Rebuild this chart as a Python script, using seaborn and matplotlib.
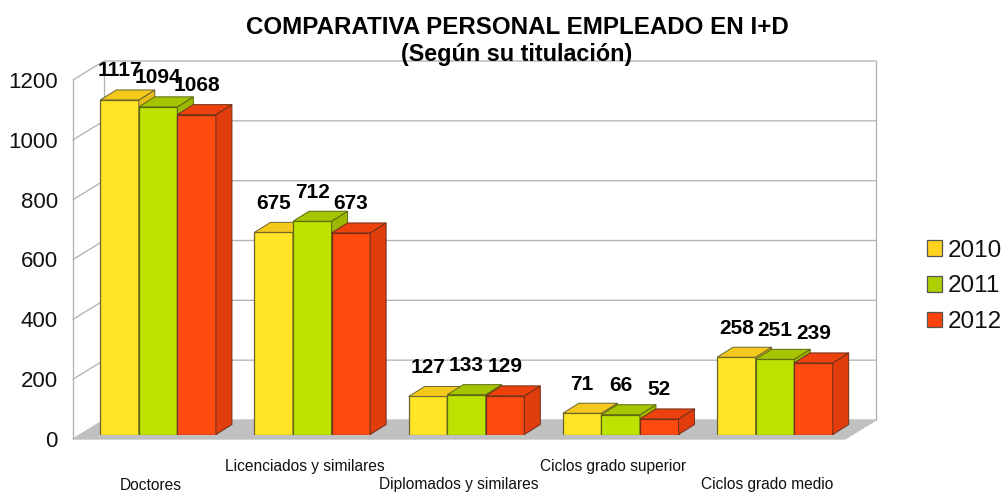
import pandas as pd
import seaborn as sns
import matplotlib.pyplot as plt
from matplotlib.patches import Patch, Polygon
from matplotlib.transforms import Affine2D

categories = ['Doctores', 'Licenciados y similares', 'Diplomados y similares',
              'Ciclos grado superior', 'Ciclos grado medio']
years = ['2010', '2011', '2012']
values_2010 = [1117, 675, 127, 71, 258]
values_2011 = [1094, 712, 133, 66, 251]
values_2012 = [1068, 673, 129, 52, 239]
yticks = [0, 200, 400, 600, 800, 1000, 1200]

FRONT = {'2010': '#ffe524', '2011': '#bee300', '2012': '#ff4a10'}
TOP = {'2010': '#f4c91c', '2011': '#a6c400', '2012': '#ee420e'}
SIDE = {'2010': '#e6bc1a', '2011': '#9cb800', '2012': '#e03c0c'}
LEGEND = {'2010': '#ffd320', '2011': '#aecf00', '2012': '#ff420e'}
EDGE = {'2010': '#6b6330', '2011': '#5c6a10', '2012': '#70301a'}

W, H = 1006, 495
DX, DY = 16, 10  # bar depth in pixels


def px_axes(fig, left, top, right, bottom):
    return fig.add_axes([left / W, (H - bottom) / H, (right - left) / W, (bottom - top) / H])


def draw_walls(ax):
    """Back wall, side wall and floor, with the value axis on the front edge."""
    x0, x1, xb = 73, 876, 104
    up = 19 * 1200 / 359  # back wall sits 19 px above the front edge
    ax.set_xlim(x0, x1)
    ax.set_ylim(0, 1200)
    sns.despine(ax=ax, left=True, right=True, top=True, bottom=True)
    ax.set_xticks([])
    ax.set_yticks(yticks)
    ax.tick_params(axis='y', length=0, pad=11, labelsize=16, labelcolor='#111111')
    ax.add_patch(Polygon([(x0, 0), (xb, up), (x1, up), (845, 0)], closed=True,
                         facecolor='#c0c0c0', edgecolor='#c0c0c0', clip_on=False))
    line = dict(color='#b3b3b3', lw=0.95, clip_on=False, zorder=1)
    for v in yticks[1:]:
        ax.plot([x0, xb, x1], [v, v + up, v + up], **line)
    ax.plot([x0, x0], [0, 1200], **line)
    ax.plot([xb, xb], [up, 1200 + up], **line)
    ax.plot([x1, x1], [up, 1200 + up], **line)


def run():
    sns.set_theme(style='white')
    plt.rcParams['font.family'] = ['Liberation Sans', 'DejaVu Sans']

    df = pd.DataFrame({
        'categoria': categories * 3,
        'year': [y for y in years for _ in categories],
        'value': values_2010 + values_2011 + values_2012,
    })

    fig = plt.figure(figsize=(W / 100, H / 100), dpi=100, facecolor='white')
    bg = px_axes(fig, 73, 80, 876, 439)
    draw_walls(bg)

    ax = px_axes(fig, 81, 75.1, 852, 434.5)
    ax.patch.set_alpha(0)
    sns.barplot(df, x='categoria', y='value', hue='year', palette=FRONT, width=0.75,
                gap=0, saturation=1, legend=False, ax=ax)
    ax.set_xlim(-0.5, 4.5)
    ax.set_ylim(0, 1200)
    ax.set_xlabel('')
    ax.set_ylabel('')
    ax.set_yticks([])
    sns.despine(ax=ax, left=True, bottom=True)
    ax.tick_params(axis='x', length=0, pad=0, labelsize=11.2, labelcolor='#111111')

    # staggered category labels
    ax.set_xticks(range(len(categories)), categories)
    for i, label in enumerate(ax.get_xticklabels()):
        drop = 24 if i % 2 else 43
        label.set_transform(label.get_transform() + Affine2D().translate(-7.5, -drop))

    # extrude each bar, left to right, so the next bar hides the one before
    ddx = DX / (771 / 5)
    ddy = DY / (359.4 / 1200)
    rects = [b for b in ax.patches]
    labels = df['year'].tolist()
    values = df['value'].tolist()
    order = sorted(range(len(rects)), key=lambda n: rects[n].get_x())
    for z, n in enumerate(order):
        bar, year = rects[n], labels[n]
        x, w, h = bar.get_x(), bar.get_width(), bar.get_height()
        edge = EDGE[year]
        bar.set_edgecolor(edge)
        bar.set_linewidth(0.9)
        bar.set_zorder(3 + z)
        ax.add_patch(Polygon([(x + w, 0), (x + w + ddx, ddy), (x + w + ddx, h + ddy), (x + w, h)],
                             closed=True, facecolor=SIDE[year], edgecolor=edge, lw=0.7,
                             zorder=3 + z, clip_on=False))
        ax.add_patch(Polygon([(x, h), (x + ddx, h + ddy), (x + w + ddx, h + ddy), (x + w, h)],
                             closed=True, facecolor=TOP[year], edgecolor=edge, lw=0.7,
                             zorder=3 + z, clip_on=False))
        ax.annotate(str(values[n]), (x + w / 2, h), xytext=(0, 29), textcoords='offset pixels',
                    ha='center', va='center', fontsize=15, fontweight='bold', color='black',
                    zorder=100, annotation_clip=False)

    handles = [Patch(facecolor=LEGEND[y], edgecolor='#555555', lw=0.9, label=y) for y in years]
    fig.legend(handles=handles, loc='center left', bbox_to_anchor=(927 / W, 1 - 286.5 / H),
               frameon=False, fontsize=17.5, labelspacing=0.56, handlelength=0.62,
               handleheight=0.62, handletextpad=0.25, borderpad=0, borderaxespad=0,
               labelcolor='#111111')

    fig.text(517 / W, 1 - 27 / H, 'COMPARATIVA PERSONAL EMPLEADO EN I+D', ha='center', va='center',
             fontsize=17.4, fontweight='bold', color='black')
    fig.text(517 / W, 1 - 54 / H, '(Según su titulación)', ha='center', va='center',
             fontsize=16.8, fontweight='bold', color='black')

    fig.savefig('out.png', dpi=100, facecolor='white')


if __name__ == "__main__":
    run()
